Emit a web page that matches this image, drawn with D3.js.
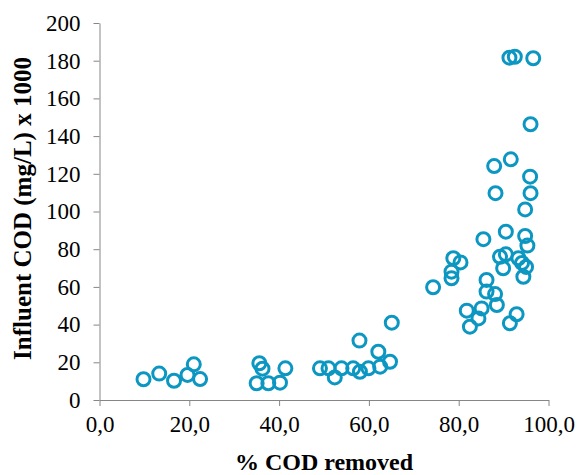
<!DOCTYPE html>
<html>
<head>
<meta charset="utf-8">
<script src="https://d3js.org/d3.v7.min.js"></script>
<style>
  body { margin: 0; background: #fff; }
  .tick text { font-family: "Liberation Serif", "Times New Roman", serif; }
</style>
</head>
<body>
<div id="chart"></div>
<script>
// % COD removed
var codRemoved = [9.8, 13.3, 16.6, 19.6, 21.0, 22.4,
  35.6, 36.3, 35.0, 37.6, 40.2, 41.4,
  49.1, 51.0, 52.4, 53.9, 56.5, 58.0, 59.9, 62.5, 64.7, 62.1, 57.9, 65.1,
  74.3, 78.8, 80.4, 78.4, 78.4, 85.5, 90.5, 94.8, 95.3, 89.2, 90.5, 89.9,
  93.3, 94.1, 95.0, 94.4, 86.2, 86.2, 88.1, 88.5, 85.1, 81.8, 84.4, 82.5,
  92.9, 91.4, 91.3, 92.5, 96.6, 96.0, 91.6, 87.9, 95.9, 88.2, 96.0, 94.8];
// influent COD (mg/L) x 1000
var influentCOD = [11.0, 14.0, 10.2, 13.3, 18.9, 11.1,
  19.5, 16.6, 8.9, 8.9, 9.2, 16.8,
  16.8, 16.8, 12.0, 16.8, 16.8, 15.0, 16.8, 17.7, 20.3, 25.6, 31.5, 41.0,
  59.8, 75.2, 73.0, 68.1, 64.6, 85.3, 89.3, 87.0, 81.9, 76.0, 77.3, 69.9,
  75.2, 72.7, 70.6, 65.4, 63.7, 57.5, 56.2, 50.4, 48.6, 47.4, 43.3, 38.9,
  45.5, 40.7, 181.6, 182.1, 181.3, 146.3, 127.7, 124.1, 118.5, 109.7, 109.7, 101.1];

var xTicks = [0, 20, 40, 60, 80, 100];
var yTicks = [0, 20, 40, 60, 80, 100, 120, 140, 160, 180, 200];

var margin = {top: 23, right: 34.5, bottom: 75, left: 99.5},
    width = 583 - margin.left - margin.right,
    height = 475 - margin.top - margin.bottom;

var svg = d3.select("#chart")
  .append("svg")
    .attr("width", 583)
    .attr("height", 475)
  .append("g")
    .attr("transform", "translate(" + margin.left + "," + margin.top + ")");

var x = d3.scaleLinear().domain([0, 100]).range([0, width]);
var y = d3.scaleLinear().domain([0, 200]).range([height, 0]);

var axisColor = "#868686";
var fmt = function(d) { return d3.format(".1f")(d).replace(".", ","); };

var xAxis = svg.append("g")
  .attr("transform", "translate(0," + height + ")")
  .call(d3.axisBottom(x).tickValues(xTicks).tickFormat(fmt).tickSize(6).tickSizeOuter(0));
xAxis.selectAll("text").attr("dy", "0.71em").attr("y", 16);

var yAxis = svg.append("g")
  .call(d3.axisLeft(y).tickValues(yTicks).tickSize(6).tickSizeOuter(0));
yAxis.selectAll("text").attr("x", -19);

svg.selectAll(".domain, .tick line").attr("stroke", axisColor);
svg.selectAll(".tick text")
  .attr("fill", "#000")
  .style("font-size", "23px");

var pts = codRemoved.map(function(d, i) { return {x: d, y: influentCOD[i]}; });

svg.selectAll("circle")
  .data(pts)
  .enter()
  .append("circle")
    .attr("cx", function(d) { return x(d.x); })
    .attr("cy", function(d) { return y(d.y); })
    .attr("r", 6.5)
    .attr("fill", "none")
    .attr("stroke", "#0b97c1")
    .attr("stroke-width", 3);

// axis titles
svg.append("text")
  .attr("x", width / 2)
  .attr("y", height + 70)
  .attr("text-anchor", "middle")
  .style("font-family", "'Liberation Serif', 'Times New Roman', serif")
  .style("font-weight", "bold")
  .style("font-size", "24px")
  .text("% COD removed");

svg.append("text")
  .attr("transform", "translate(" + (31 - margin.left) + "," + (height / 2 - 3) + ") rotate(-90)")
  .attr("text-anchor", "middle")
  .style("font-family", "'Liberation Serif', 'Times New Roman', serif")
  .style("font-weight", "bold")
  .style("font-size", "25px")
  .text("Influent COD (mg/L) x 1000");
</script>
</body>
</html>
